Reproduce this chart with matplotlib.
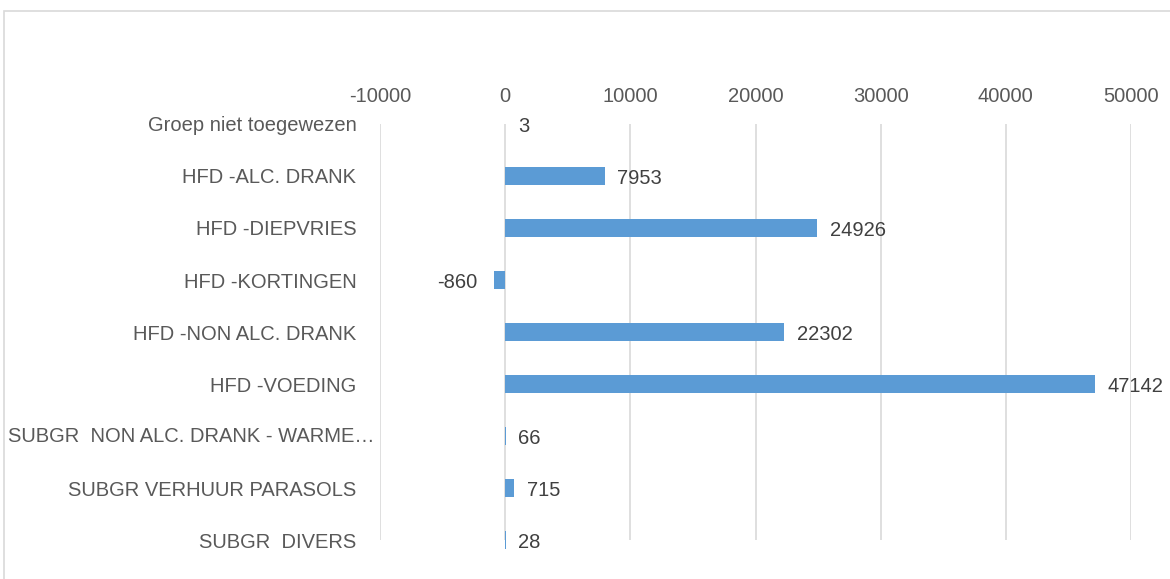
import matplotlib.pyplot as plt
import matplotlib.transforms as mtransforms
from matplotlib.patches import Rectangle

categories = ["Groep niet toegewezen", "HFD -ALC. DRANK", "HFD -DIEPVRIES", "HFD -KORTINGEN",
              "HFD -NON ALC. DRANK", "HFD -VOEDING", "SUBGR  NON ALC. DRANK - WARME…",
              "SUBGR VERHUUR PARASOLS", "SUBGR  DIVERS"]
values = [3, 7953, 24926, -860, 22302, 47142, 66, 715, 28]
xticks = [-10000, 0, 10000, 20000, 30000, 40000, 50000]

plt.rcParams['font.family'] = ['Liberation Sans', 'DejaVu Sans']
txt = '#595959'
bar_c = '#5B9BD5'
grid_c = '#D9D9D9'
fs = 14.5

fig = plt.figure(figsize=(11.7, 5.79), dpi=100)
# chart border (only left and top edges fall inside the image)
fig.patches.append(Rectangle((4/1170, -0.05), 1.1, 1 - 11/579 + 0.05, transform=fig.transFigure,
                             fill=False, edgecolor=grid_c, lw=1.2))
ax = fig.add_axes([380/1170, 1 - 540/579, 751/1170, 416/579])

y = list(range(len(categories)))
ax.barh(y, values, height=0.35, color=bar_c, lw=0, clip_on=False, zorder=3)
for yi, v in zip(y, values):
    if v < 0:
        ax.annotate(str(v), (v, yi), xytext=(-12, -2), textcoords='offset points',
                    ha='right', va='center', fontsize=fs, color='#404040')
    else:
        ax.annotate(str(v), (v, yi), xytext=(9, -2), textcoords='offset points',
                    ha='left', va='center', fontsize=fs, color='#404040')

ax.set_xlim(-10000, 50000)
ax.set_ylim(8, 0)
ax.set_xticks(xticks)
ax.set_xticklabels([str(t) for t in xticks])
ax.xaxis.tick_top()
ax.set_yticks(y)
ax.set_yticklabels(categories)
ax.tick_params(axis='x', length=0, pad=13, labelsize=fs, colors=txt)
ax.tick_params(axis='y', length=0, pad=17, labelsize=fs, colors=txt)

# the long label is cut off by Excel and starts at the left border
ax.get_yticklabels()[6].set_visible(False)
trans = mtransforms.blended_transform_factory(fig.transFigure, ax.transData)
fig.text(8/1170, y[6], categories[6], fontsize=fs, color=txt,
         ha='left', va='center', transform=trans)

ax.grid(axis='x', color=grid_c, lw=1.2, zorder=0)
ax.set_axisbelow(True)
for s in ax.spines.values():
    s.set_visible(False)

fig.savefig('out.png', dpi=100)
